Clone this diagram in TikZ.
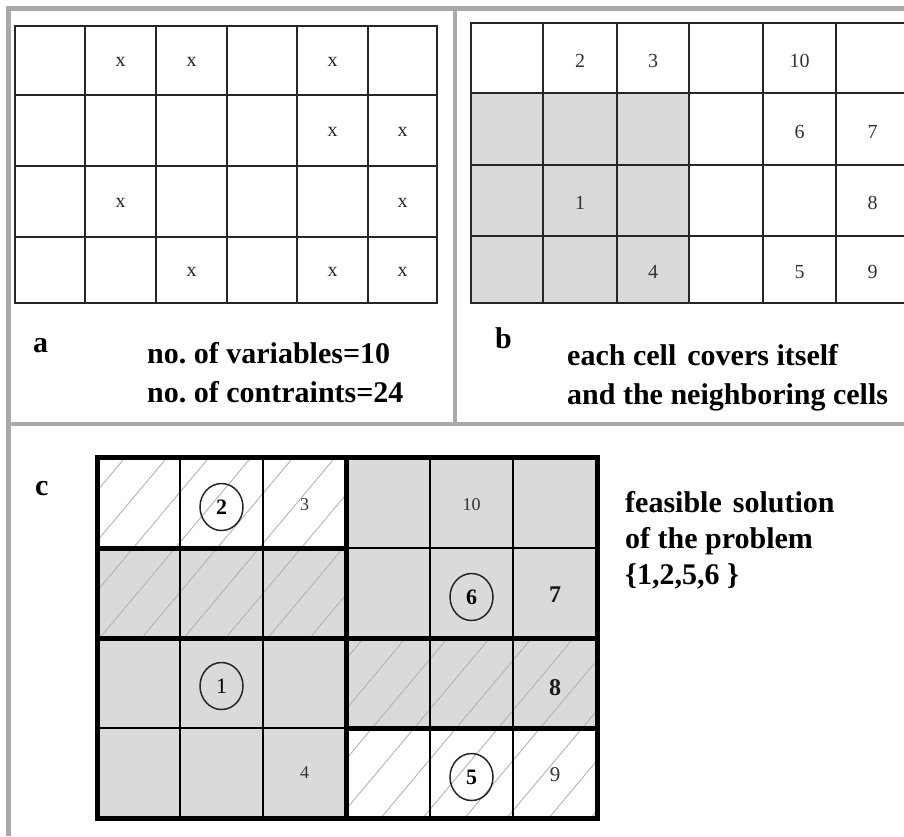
\documentclass[tikz,border=0pt]{standalone}
\usepackage{fontspec}
\setmainfont{Liberation Serif}
\usetikzlibrary{shapes.geometric}
\frenchspacing
\definecolor{framegray}{HTML}{A9A9A9}
\definecolor{cellgray}{HTML}{DADADA}
\definecolor{hatchgray}{HTML}{B4B4B4}
\definecolor{numgray}{HTML}{333333}
\tikzset{
  frameline/.style={draw=framegray,line width=4.5pt},
  gridA/.style={draw=black!85,line width=2.4pt,line cap=rect},
  gridthin/.style={draw=black,line width=2.4pt,line cap=rect},
  gridthick/.style={draw=black,line width=5pt,line cap=rect},
  hatchline/.style={draw=hatchgray,line width=0.9pt},
  bigtext/.style={anchor=base west,inner sep=0pt,font=\fontsize{30}{36}\selectfont\bfseries},
  xmark/.style={inner sep=0pt,text=black!85,font=\fontsize{20}{24}\selectfont},
  bnum/.style={inner sep=0pt,text=numgray,font=\fontsize{20}{24}\selectfont},
  smallnum/.style={inner sep=0pt,text=numgray,font=\fontsize{18}{22}\selectfont},
  largenum/.style={inner sep=0pt,text=black!90,font=\fontsize{24}{28}\selectfont\bfseries},
  circnum/.style={ellipse,draw=black!85,line width=1.5pt,minimum width=43pt,minimum height=47pt,inner sep=0pt,font=\fontsize{22}{26}\selectfont\bfseries}
}
\begin{document}
\begin{tikzpicture}[x=1pt,y=-1pt]
\useasboundingbox (0,0) rectangle (904,836);
\clip (0,0) rectangle (904,836);
\fill[white] (0,0) rectangle (904,836);

% ---------- outer frame ----------
\draw[frameline] (8.5,836) -- (8.5,8.5) -- (904,8.5);
\draw[frameline] (8.5,424) -- (904,424);
\draw[frameline] (455,8.5) -- (455,424);

% ---------- panel a ----------
\foreach \x in {15,85,156,227,297,368,437} \draw[gridA] (\x,26) -- (\x,303);
\foreach \y in {26,95,166,237,303} \draw[gridA] (15,\y) -- (437,\y);
\foreach \p [count=\i] in {(120.5,62),(191.5,62),(332.5,62),(332.5,132),(402.5,132),(120.5,203),(402.5,203),(191.5,272),(332.5,272),(402.5,272)}
  \node[xmark] (xa\i) at \p {x};
\node[bigtext] (la) at (33,352) {a};
\node[bigtext] (ta1) at (147,363) {no. of variables=10};
\node[bigtext] (ta2) at (147,402) {no. of contraints=24};

% ---------- panel b ----------
\fill[cellgray] (471,93) rectangle (689,303);
\foreach \x in {471,543,617,689,763,836,909} \draw[gridA] (\x,23) -- (\x,303);
\foreach \y in {23,93,165,236,303} \draw[gridA] (471,\y) -- (909,\y);
\node[bnum] (b2) at (580,61) {2};
\node[bnum] (b3) at (653,61) {3};
\node[bnum] (b10) at (799.5,61) {10};
\node[bnum] (b6) at (799.5,132) {6};
\node[bnum] (b7) at (872.5,132) {7};
\node[bnum] (b1) at (580,203) {1};
\node[bnum] (b8) at (872.5,203) {8};
\node[bnum] (b4) at (653,272) {4};
\node[bnum] (b5) at (799.5,272) {5};
\node[bnum] (b9) at (872.5,272) {9};
\node[bigtext] (lb) at (495,348) {b};
\node[bigtext] (tb1) at (567,365) {each cell\hspace{0.12em} covers itself};
\node[bigtext] (tb2) at (567,404) {and the neighboring cells};

% ---------- panel c ----------
\fill[cellgray] (97,548) rectangle (346,818);
\fill[cellgray] (346,457) rectangle (597,728);
\begin{scope}
  \clip (97,457) rectangle (346,638);
  \foreach \a in {-330,-288,...,220} \draw[hatchline] (\a,900) -- ++(400,-477);
\end{scope}
\begin{scope}
  \clip (346,638) rectangle (597,818);
  \foreach \a in {60,102,...,620} \draw[hatchline] (\a,900) -- ++(400,-477);
\end{scope}
% thin lines
\foreach \x in {180,263,430,513} \draw[gridthin] (\x,457) -- (\x,818);
\draw[gridthin] (346,548) -- (597,548);
\draw[gridthin] (97,728) -- (346,728);
% thick lines
\draw[gridthick] (97,548) -- (346,548);
\draw[gridthick] (346,728) -- (597,728);
\draw[gridthick] (97,638) -- (597,638);
\draw[gridthick] (346,457) -- (346,818);
\draw[gridthick] (97,457) rectangle (597,818);
% labels
\node[circnum] (c2) at (221.5,507) {2};
\node[smallnum] (c3) at (304.5,505) {3};
\node[smallnum] (c10) at (471.5,505) {10};
\node[circnum] (c6) at (471.5,597) {6};
\node[largenum] (c7) at (555,595) {7};
\node[circnum,font=\fontsize{22}{26}\selectfont] (c1) at (221.5,686) {1};
\node[largenum] (c8) at (555,688) {8};
\node[smallnum] (c4) at (304.5,773) {4};
\node[circnum] (c5) at (471.5,777) {5};
\node[smallnum,font=\fontsize{21}{24}\selectfont] (c9) at (555,775) {9};
\node[bigtext] (lc) at (35,495) {c};
\node[bigtext] (tc1) at (625,512) {feasible\hspace{0.12em} solution};
\node[bigtext] (tc2) at (625,548) {of the problem};
\node[bigtext] (tc3) at (625,584) {\{1,2,5,6 \}};
\end{tikzpicture}
\end{document}
